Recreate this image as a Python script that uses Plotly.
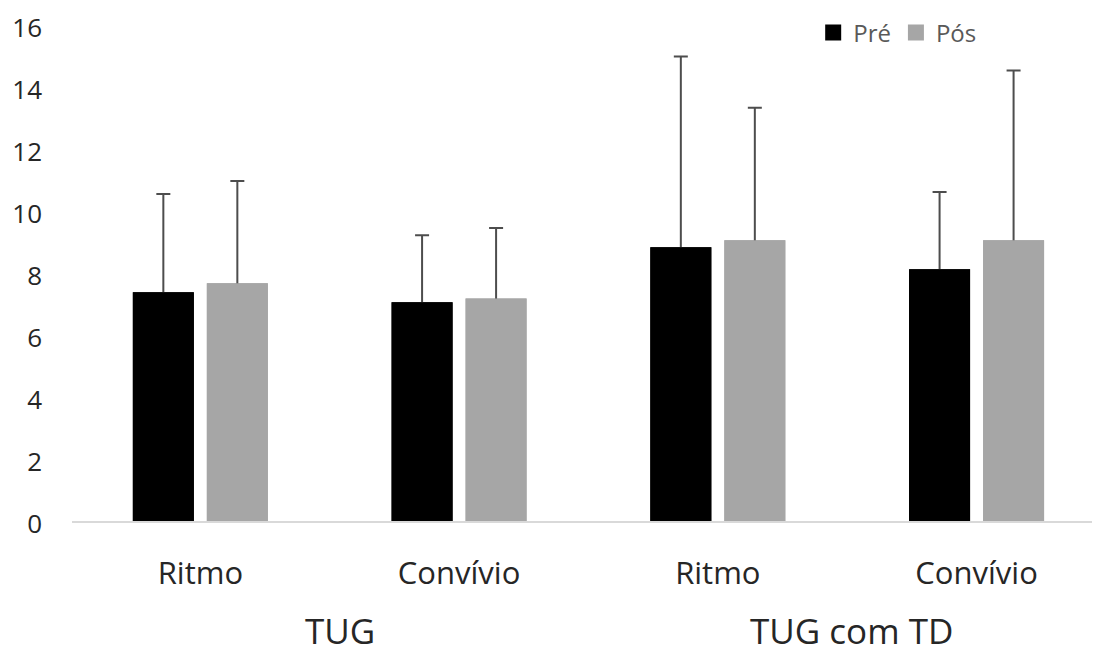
import plotly.graph_objects as go

subgroups = ["Ritmo", "Convívio", "Ritmo", "Convívio"]
groups = ["TUG", "TUG com TD"]
pre_mean = [7.38, 7.06, 8.83, 8.12]
pre_sd = [3.17, 2.16, 6.15, 2.49]
pos_mean = [7.67, 7.18, 9.06, 9.06]
pos_sd = [3.30, 2.27, 4.27, 5.47]
series_names = ["Pré", "Pós"]
colors = ["#000000", "#a6a6a6"]

xpos = list(range(len(subgroups)))
group_pos = [0.54, 2.515]
FONT = "Open Sans"

series = [(series_names[0], pre_mean, pre_sd, colors[0], "pre"),
          (series_names[1], pos_mean, pos_sd, colors[1], "pos")]

fig = go.Figure()
# bars carrying the (upward-only) error bars
for name, means, sds, col, og in series:
    fig.add_trace(go.Bar(
        x=xpos, y=means, name=name, offsetgroup=og,
        marker=dict(color=col, line=dict(width=0)),
        error_y=dict(type="data", array=sds, arrayminus=[0.12] * len(sds), symmetric=False,
                     color="#4d4d4d", thickness=2, width=7),
        showlegend=False, hoverinfo="skip",
    ))
# same bars drawn again on top, hiding the lower end of the error bars
for name, means, sds, col, og in series:
    fig.add_trace(go.Bar(
        x=xpos, y=means, name=name, offsetgroup=og,
        marker=dict(color=col, line=dict(width=0)),
        showlegend=False,
    ))
# legend entries
for name, means, sds, col, og in series:
    fig.add_trace(go.Scatter(
        x=[None], y=[None], mode="markers", name=name,
        marker=dict(symbol="square", size=18, color=col), showlegend=True,
    ))

fig.update_layout(
    width=1092, height=645,
    margin=dict(l=64, r=0, t=17, b=132, autoexpand=False),
    paper_bgcolor="white", plot_bgcolor="white",
    barmode="group", bargap=0.428, bargroupgap=0.176,
    font=dict(family=FONT, color="#333333"),
    legend=dict(orientation="h", x=0.721, y=0.984, xanchor="left", yanchor="middle",
                font=dict(size=24, color="#595959"), itemwidth=30,
                tracegroupgap=0, bgcolor="rgba(0,0,0,0)"),
    showlegend=True,
)
fig.update_xaxes(
    range=[-0.496, 3.477], tickmode="array", tickvals=xpos, ticktext=subgroups,
    showline=True, linecolor="#d9d9d9", linewidth=2, showgrid=False, zeroline=False,
    ticks="", tickfont=dict(size=31, color="#262626"), ticklabelstandoff=24,
)
fig.update_yaxes(
    range=[0, 16], tickmode="array", tickvals=list(range(0, 17, 2)),
    showgrid=False, zeroline=False, showline=False, ticks="",
    tickfont=dict(size=26, color="#262626"), ticklabelstandoff=29,
    ticklabelshift=3, ticklabeloverflow="allow",
)
for g, gx in zip(groups, group_pos):
    fig.add_annotation(x=gx, y=-0.22, xref="x", yref="paper", text=g,
                       showarrow=False, font=dict(size=35, color="#262626"),
                       xanchor="center", yanchor="middle", borderpad=0)

fig.write_html("out.html")
